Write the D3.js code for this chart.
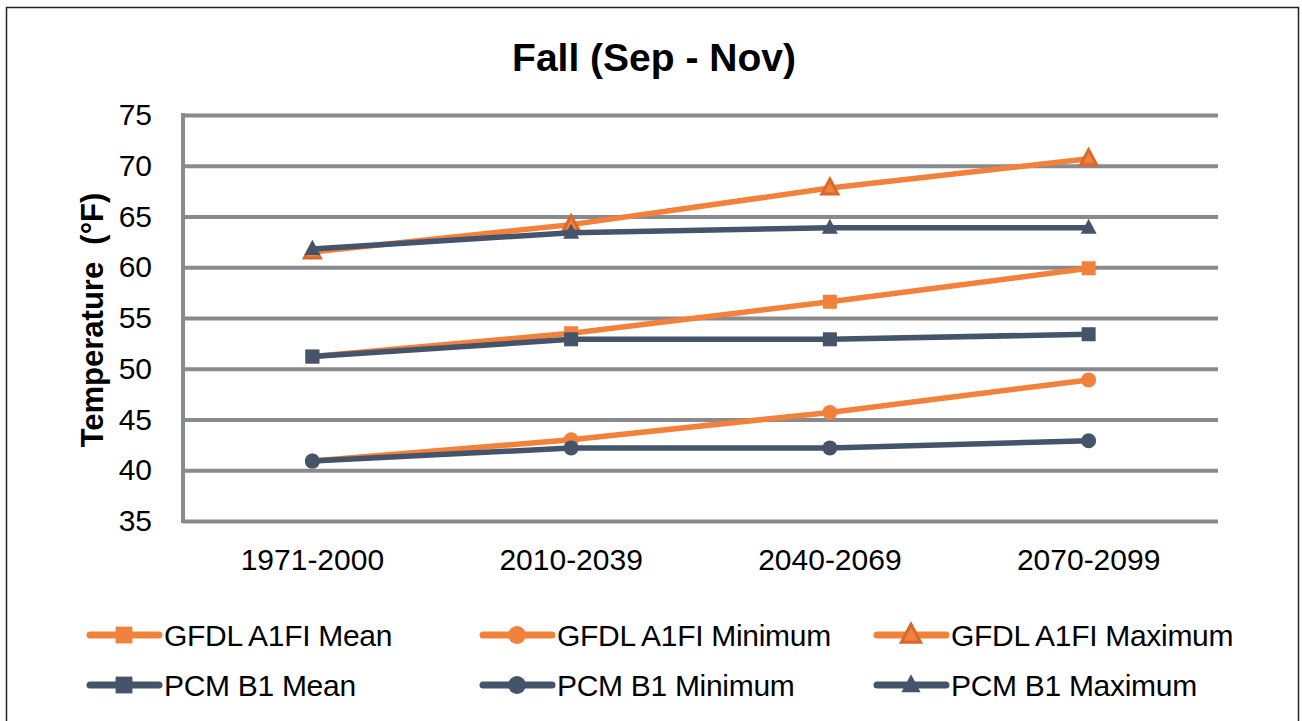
<!DOCTYPE html>
<html>
<head>
<meta charset="utf-8">
<script src="https://cdn.jsdelivr.net/npm/d3@7"></script>
<style>
  html, body { margin: 0; padding: 0; background: #fff; }
  svg { display: block; font-family: "Liberation Sans", Arial, Helvetica, sans-serif; }
</style>
</head>
<body>
<svg id="chart" width="1302" height="721"></svg>
<script>
// Periods on the category axis
const periods = ["1971-2000", "2010-2039", "2040-2069", "2070-2099"];

// Fall temperatures (°F) for each scenario
const gfdlMean = [51.2, 53.5, 56.6, 59.9];
const gfdlMin  = [40.9, 43.0, 45.7, 48.9];
const gfdlMax  = [61.5, 64.2, 67.8, 70.7];
const pcmMean  = [51.2, 52.9, 52.9, 53.4];
const pcmMin   = [40.9, 42.2, 42.2, 42.9];
const pcmMax   = [61.8, 63.4, 63.9, 63.9];

const yTicks = [35, 40, 45, 50, 55, 60, 65, 70, 75];

const seriesNames = [
  "GFDL A1FI Mean", "GFDL A1FI Minimum", "GFDL A1FI Maximum",
  "PCM B1 Mean", "PCM B1 Minimum", "PCM B1 Maximum"
];

const ORANGE = "#F2813B";
const ORANGE_DARK = "#D8692A";
const SLATE = "#44546A";
const GRID = "#898A8E";

const series = [
  { name: seriesNames[0], values: gfdlMean, color: ORANGE, marker: "square" },
  { name: seriesNames[1], values: gfdlMin,  color: ORANGE, marker: "circle" },
  { name: seriesNames[2], values: gfdlMax,  color: ORANGE, marker: "triangleOutlined" },
  { name: seriesNames[3], values: pcmMean,  color: SLATE,  marker: "square" },
  { name: seriesNames[4], values: pcmMin,   color: SLATE,  marker: "circle" },
  { name: seriesNames[5], values: pcmMax,   color: SLATE,  marker: "triangle" }
];

const svg = d3.select("#chart");

// outer frame
svg.append("rect")
  .attr("x", 6.5).attr("y", 7.5)
  .attr("width", 1292).attr("height", 730)
  .attr("fill", "#fff").attr("stroke", "#222").attr("stroke-width", 1.5);

const plot = { left: 183, right: 1218, top: 115, bottom: 521 };

const x = d3.scaleBand().domain(periods).range([plot.left, plot.right]);
const y = d3.scaleLinear().domain([35, 75]).range([plot.bottom, plot.top]);
const cx = p => x(p) + x.bandwidth() / 2;

// title
svg.append("text")
  .attr("x", 654).attr("y", 71)
  .attr("text-anchor", "middle")
  .attr("font-weight", "bold")
  .attr("font-size", 39)
  .attr("fill", "#000")
  .text("Fall (Sep - Nov)");

// horizontal gridlines
const gridAxis = d3.axisLeft(y).tickValues(yTicks)
  .tickSize(-(plot.right - plot.left)).tickFormat("");
const gridG = svg.append("g").attr("transform", `translate(${plot.left},0)`).call(gridAxis);
gridG.select(".domain").remove();
gridG.selectAll(".tick line").attr("stroke", GRID).attr("stroke-width", 4);

// vertical axis line
svg.append("line")
  .attr("x1", plot.left).attr("x2", plot.left)
  .attr("y1", y(75) - 2).attr("y2", y(35) + 2)
  .attr("stroke", GRID).attr("stroke-width", 4);

// y tick labels
const yAxis = d3.axisLeft(y).tickValues(yTicks).tickSize(0).tickPadding(31);
const yG = svg.append("g").attr("transform", `translate(${plot.left},0)`).call(yAxis);
yG.select(".domain").remove();
yG.selectAll("text")
  .attr("font-family", "Liberation Sans, Arial, sans-serif")
  .attr("font-size", 30).attr("fill", "#000");

// x tick labels
const xAxis = d3.axisBottom(x).tickSize(0).tickPadding(28);
const xG = svg.append("g").attr("transform", `translate(0,${plot.bottom})`).call(xAxis);
xG.select(".domain").remove();
xG.selectAll("text")
  .attr("font-family", "Liberation Sans, Arial, sans-serif")
  .attr("font-size", 30).attr("fill", "#000");

// y axis title
svg.append("text")
  .attr("transform", `translate(103,320) rotate(-90)`)
  .attr("text-anchor", "middle")
  .attr("font-weight", "bold")
  .attr("font-size", 31)
  .attr("fill", "#000")
  .attr("xml:space", "preserve")
  .style("white-space", "pre")
  .text("Temperature  (°F)");

// marker drawing
function drawMarker(g, type, color, px, py, k = 1) {
  if (type === "square") {
    g.append("rect").attr("x", px - 7 * k).attr("y", py - 7 * k)
      .attr("width", 14 * k).attr("height", 14 * k).attr("fill", color);
  } else if (type === "circle") {
    g.append("circle").attr("cx", px).attr("cy", py).attr("r", 7.5 * k).attr("fill", color);
  } else if (type === "triangle" || type === "triangleOutlined") {
    const p = g.append("path")
      .attr("d", `M${px},${py - 9 * k} L${px + 8 * k},${py + 6 * k} L${px - 8 * k},${py + 6 * k} Z`)
      .attr("fill", color);
    if (type === "triangleOutlined") {
      p.attr("stroke", ORANGE_DARK).attr("stroke-width", 3).attr("stroke-linejoin", "miter");
    }
  }
}

const line = d3.line()
  .x((d, i) => cx(periods[i]))
  .y(d => y(d));

const linesG = svg.append("g");
series.forEach(s => {
  const g = linesG.append("g");
  g.append("path")
    .attr("d", line(s.values))
    .attr("fill", "none")
    .attr("stroke", s.color)
    .attr("stroke-width", 5.5)
    .attr("stroke-linecap", "round")
    .attr("stroke-linejoin", "round");
  s.values.forEach((v, i) => drawMarker(g, s.marker, s.color, cx(periods[i]), y(v)));
});

// legend
const legendCols = [90, 483, 877];
const legendRows = [635, 685];
series.forEach((s, i) => {
  const lx = legendCols[i % 3];
  const ly = legendRows[Math.floor(i / 3)];
  const g = svg.append("g");
  g.append("line")
    .attr("x1", lx).attr("x2", lx + 69)
    .attr("y1", ly).attr("y2", ly)
    .attr("stroke", s.color).attr("stroke-width", 7).attr("stroke-linecap", "round");
  drawMarker(g, s.marker, s.color, lx + 34, ly, 1.2);
  g.append("text")
    .attr("x", lx + 74).attr("y", ly + 11)
    .attr("font-size", 30)
    .attr("letter-spacing", -0.3)
    .attr("fill", "#000")
    .text(s.name);
});
</script>
</body>
</html>
